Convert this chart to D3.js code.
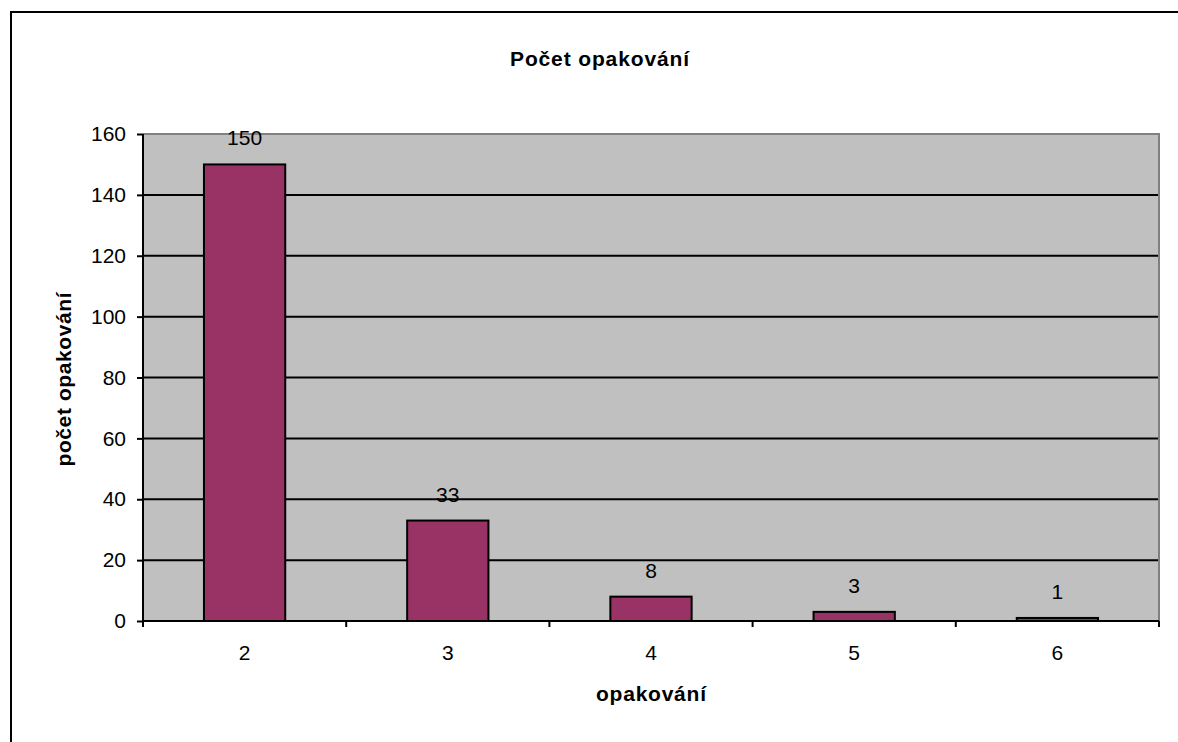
<!DOCTYPE html>
<html>
<head>
<meta charset="utf-8">
<script src="https://cdn.jsdelivr.net/npm/d3@7"></script>
<style>
  html, body { margin: 0; padding: 0; background: #ffffff; }
  svg { display: block; font-family: "Liberation Sans", Arial, sans-serif; }
</style>
</head>
<body>
<svg id="chart" width="1178" height="742"></svg>
<script>
// Data
const categories = ["2", "3", "4", "5", "6"];
const values = [150, 33, 8, 3, 1];
const yTicks = [0, 20, 40, 60, 80, 100, 120, 140, 160];
const chartTitle = "Počet opakování";
const xTitle = "opakování";
const yTitle = "počet opakování";

const svg = d3.select("#chart");
const plot = { left: 143, right: 1159, top: 134, bottom: 621 };

// outer chart border (extends beyond right/bottom edges)
svg.append("rect")
  .attr("x", 11).attr("y", 12)
  .attr("width", 1200).attr("height", 800)
  .attr("fill", "#ffffff")
  .attr("stroke", "#000").attr("stroke-width", 2);

const x = d3.scaleBand()
  .domain(categories)
  .range([plot.left, plot.right])
  .paddingInner(0.6)
  .paddingOuter(0.3);

const y = d3.scaleLinear()
  .domain([0, 160])
  .range([plot.bottom, plot.top]);

// plot background
svg.append("rect")
  .attr("x", plot.left).attr("y", plot.top)
  .attr("width", plot.right - plot.left)
  .attr("height", plot.bottom - plot.top)
  .attr("fill", "#c0c0c0");

// gridlines
svg.append("g")
  .selectAll("line")
  .data(yTicks.filter(t => t > 0 && t < 160))
  .join("line")
  .attr("x1", plot.left).attr("x2", plot.right)
  .attr("y1", d => y(d)).attr("y2", d => y(d))
  .attr("stroke", "#000").attr("stroke-width", 2);

// plot border top & right (gray)
svg.append("path")
  .attr("d", `M${plot.left},${y(160)}H${plot.right}V${plot.bottom}`)
  .attr("fill", "none")
  .attr("stroke", "#808080").attr("stroke-width", 2);

// bars
svg.append("g")
  .selectAll("rect")
  .data(values)
  .join("rect")
  .attr("x", (d, i) => x(categories[i]))
  .attr("y", d => y(d))
  .attr("width", x.bandwidth())
  .attr("height", d => y(0) - y(d))
  .attr("fill", "#993366")
  .attr("stroke", "#000").attr("stroke-width", 2);

// data labels
svg.append("g")
  .selectAll("text")
  .data(values)
  .join("text")
  .attr("x", (d, i) => x(categories[i]) + x.bandwidth() / 2)
  .attr("y", d => y(d) - 19)
  .attr("text-anchor", "middle")
  .attr("font-size", 21)
  .attr("fill", "#000")
  .text(d => d);

// y axis
const yAxis = d3.axisLeft(y).tickValues(yTicks).tickSize(6).tickPadding(11);
const gy = svg.append("g").attr("transform", `translate(${plot.left},0)`).call(yAxis);
gy.select(".domain").attr("stroke", "#000").attr("stroke-width", 2)
  .attr("d", `M0,${y(160)}V${y(0)}`);
gy.selectAll(".tick line").attr("stroke", "#000").attr("stroke-width", 2);
gy.selectAll(".tick text").attr("font-size", 21).attr("fill", "#000")
  .attr("font-family", "Liberation Sans, Arial, sans-serif");

// x axis: labels at category centers, ticks between categories
const xAxis = d3.axisBottom(x).tickSize(0).tickPadding(24);
const gx = svg.append("g").attr("transform", `translate(0,${plot.bottom})`).call(xAxis);
gx.select(".domain").remove();
gx.selectAll(".tick text").attr("font-size", 21).attr("fill", "#000")
  .attr("font-family", "Liberation Sans, Arial, sans-serif");

const step = x.step();
const boundaries = d3.range(categories.length + 1).map(i => plot.left + i * step);
svg.append("line")
  .attr("x1", plot.left).attr("x2", plot.right)
  .attr("y1", plot.bottom).attr("y2", plot.bottom)
  .attr("stroke", "#000").attr("stroke-width", 2);
svg.append("g").selectAll("line")
  .data(boundaries)
  .join("line")
  .attr("x1", d => d).attr("x2", d => d)
  .attr("y1", plot.bottom).attr("y2", plot.bottom + 6)
  .attr("stroke", "#000").attr("stroke-width", 2);

// titles
svg.append("text")
  .attr("x", 599.5).attr("y", 66)
  .attr("text-anchor", "middle")
  .attr("font-size", 21).attr("font-weight", "bold")
  .attr("textLength", 179).attr("lengthAdjust", "spacing")
  .text(chartTitle);

svg.append("text")
  .attr("x", (plot.left + plot.right) / 2).attr("y", 701)
  .attr("text-anchor", "middle")
  .attr("font-size", 21).attr("font-weight", "bold")
  .attr("textLength", 110).attr("lengthAdjust", "spacing")
  .text(xTitle);

svg.append("text")
  .attr("transform", `translate(71,${(plot.top + plot.bottom) / 2 + 2}) rotate(-90)`)
  .attr("text-anchor", "middle")
  .attr("font-size", 21).attr("font-weight", "bold")
  .attr("textLength", 174).attr("lengthAdjust", "spacing")
  .text(yTitle);
</script>
</body>
</html>
